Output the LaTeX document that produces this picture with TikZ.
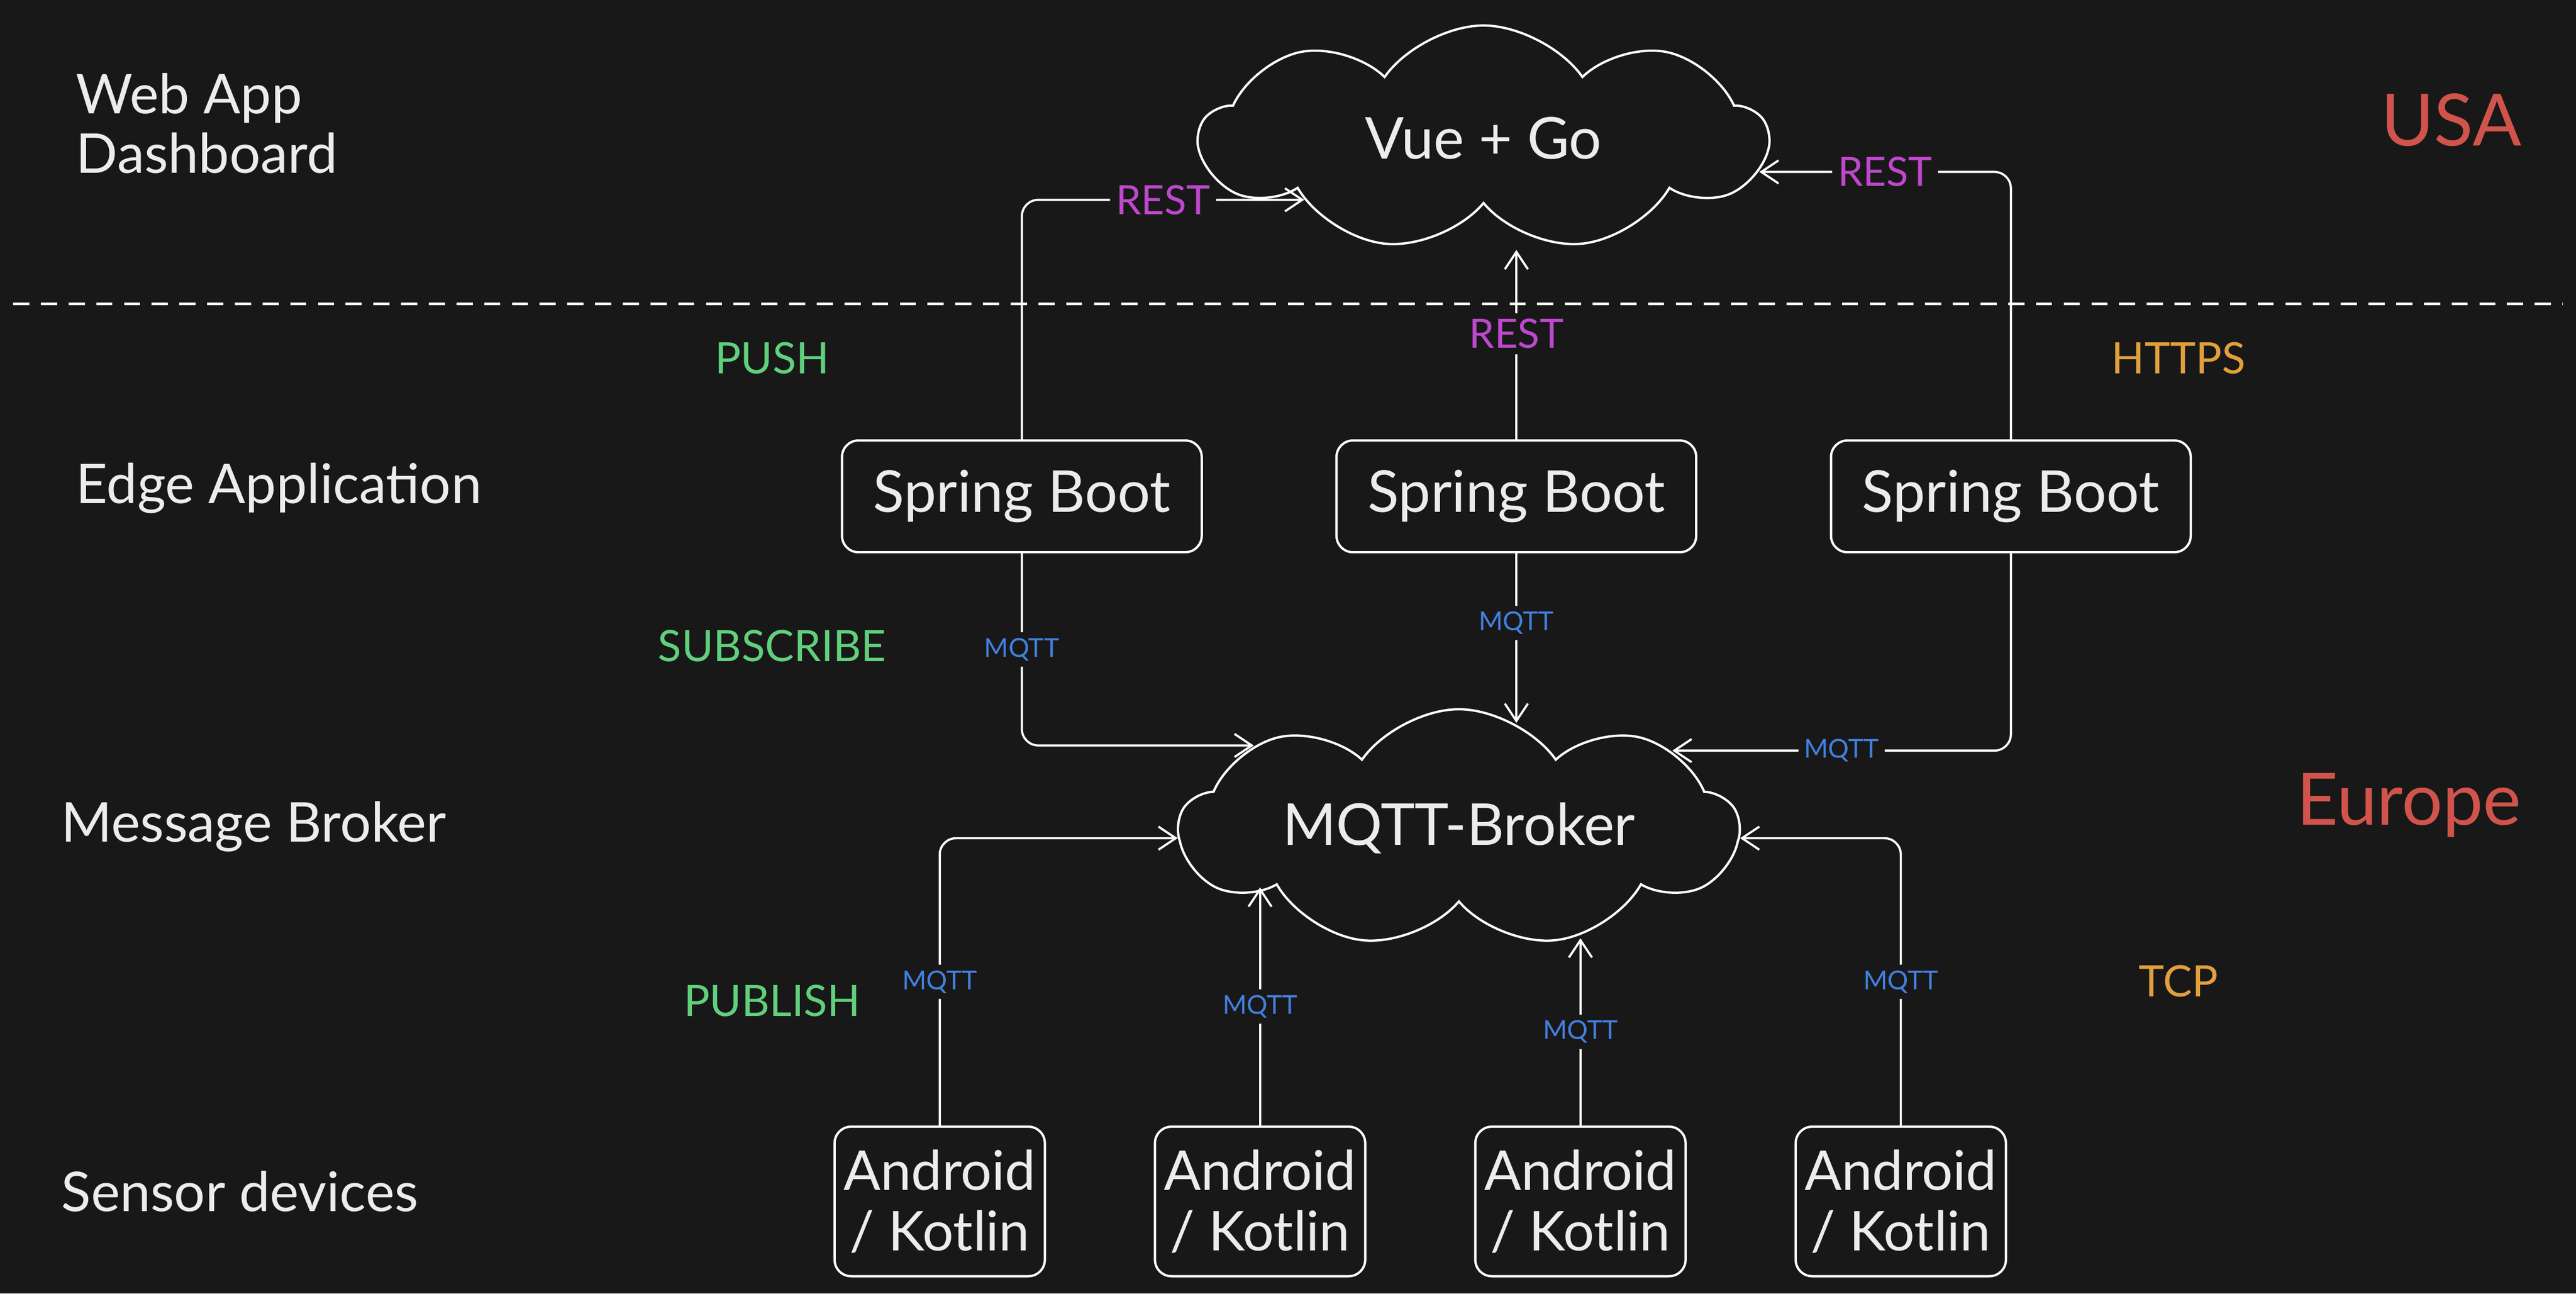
\documentclass[tikz,border=0pt]{standalone}
\usepackage{fontspec}
\setmainfont{Lato}
\usepackage{tikz}
\usetikzlibrary{arrows.meta,shapes.symbols,positioning}
\definecolor{bgdark}{RGB}{24,24,24}
\definecolor{inkwhite}{RGB}{236,236,236}
\definecolor{flowgreen}{RGB}{96,208,124}
\definecolor{protoorange}{RGB}{226,160,60}
\definecolor{restpink}{RGB}{190,72,204}
\definecolor{mqttblue}{RGB}{66,128,224}
\definecolor{regionred}{RGB}{208,84,76}
\tikzstyle{service} = [rectangle, rounded corners=0.2cm, minimum width=4.38cm, minimum height=1.36cm, text centered, draw=white, fill=bgdark, line width=0.8pt, text=inkwhite, font=\fontsize{20}{21}\selectfont]
\tikzstyle{device} = [service, minimum width=2.56cm, minimum height=1.82cm, align=center, inner sep=1pt, font=\fontsize{19}{21}\selectfont]
\tikzstyle{hub} = [cloud, cloud puffs=9, cloud puff arc=110, cloud ignores aspect, draw=white, line width=0.8pt, text=inkwhite, font=\fontsize{20}{21}\selectfont]
\tikzstyle{layer} = [anchor=west, align=left, inner sep=0pt, text=inkwhite, font=\fontsize{19}{20.5}\selectfont]
\tikzstyle{region} = [anchor=east, inner sep=0pt, text=regionred, font=\fontsize{25}{26}\selectfont]
\tikzstyle{flow} = [text=flowgreen, font=\fontsize{15}{16}\selectfont]
\tikzstyle{proto} = [text=protoorange, font=\fontsize{15}{16}\selectfont]
\tikzstyle{link} = [line width=0.75pt, draw=white, -{Straight Barb[length=6pt,width=8pt]}, rounded corners=0.2cm]
\tikzstyle{resttag} = [fill=bgdark, inner sep=2pt, text=restpink, font=\fontsize{14}{15}\selectfont]
\tikzstyle{mqtttag} = [fill=bgdark, inner sep=2pt, text=mqttblue, font=\fontsize{9}{10}\selectfont]

\begin{document}
\begin{tikzpicture}[x=0.02cm, y=-0.02cm]
% Canvas
\fill[bgdark] (0,0) rectangle (1568,787);
\useasboundingbox (0,0) rectangle (1568,787);

% Layers
\node[layer] (lweb) at (46,75) {Web App\\Dashboard};
\node[layer] (ledge) at (46,297) {Edge Application};
\node[layer] (lbroker) at (37,503) {Message Broker};
\node[layer] (lsensor) at (37,725) {Sensor devices};

% Regions
\node[region] (usa) at (1535,73) {USA};
\node[region] (europe) at (1535,490) {Europe};
\draw[white, line width=0.9pt, dash pattern=on 5.6pt off 4pt] (8,185) -- (1560,185);

% Directions
\node[flow] (push) at (470,218) {PUSH};
\node[flow] (subscribe) at (470,393) {SUBSCRIBE};
\node[flow] (publish) at (470,609) {PUBLISH};
\node[proto] (https) at (1326,218) {HTTPS};
\node[proto] (tcp) at (1326,597) {TCP};

% Web app
\node[hub, minimum width=6.9cm, minimum height=2.74cm] (vue) at (903,84) {Vue + Go};

% Edge applications
\node[service] (sb1) at (622,302) {Spring Boot};
\node[service] (sb2) at (923,302) {Spring Boot};
\node[service] (sb3) at (1224,302) {Spring Boot};

% Broker
\node[hub, minimum width=6.8cm, minimum height=2.9cm] (broker) at (888,504) {MQTT-Broker};

% Sensor devices
\node[device] (and1) at (572,731) {Android\\/ Kotlin};
\node[device] (and2) at (767,731) {Android\\/ Kotlin};
\node[device] (and3) at (962,731) {Android\\/ Kotlin};
\node[device] (and4) at (1157,731) {Android\\/ Kotlin};

% REST to web app
\draw[link] (sb1.north) |- node[pos=0.75, resttag] {REST} (vue.199);
\draw[link, shorten >=0.55cm] (sb2.north) -- node[pos=0.45, resttag] {REST} (sb2.north |- vue.south);
\draw[link] (sb3.north) |- node[pos=0.75, resttag] {REST} (vue.353);

% MQTT subscribe
\draw[link] (sb1.south) |- node[pos=0.25, mqtttag] {MQTT} (broker.158);
\draw[link, shorten >=-0.18cm] (sb2.south) -- node[pos=0.45, mqtttag] {MQTT} (sb2.south |- broker.north);
\draw[link] (sb3.south) |- node[pos=0.75, mqtttag] {MQTT} (broker.20);

% MQTT publish
\draw[link] (and1.north) |- node[pos=0.25, mqtttag] {MQTT} (broker.182);
\draw[link] (and2.north) -- node[mqtttag] {MQTT} (and2.north |- broker.198);
\draw[link] (and3.north) -- node[mqtttag] {MQTT} (and3.north |- broker.316);
\draw[link] (and4.north) |- node[pos=0.25, mqtttag] {MQTT} (broker.358);
\end{tikzpicture}
\end{document}
